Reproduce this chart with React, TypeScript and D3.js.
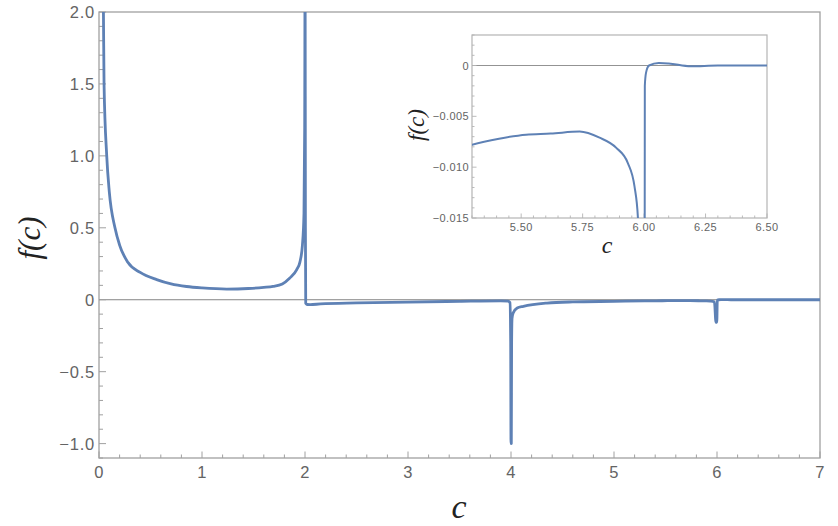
import React from 'react';
import * as d3 from 'd3';

// f(c), [c, f]
const mainCurve: [number, number][] = [
  [0.030, 2.4], [0.043, 2.0], [0.049, 1.5], [0.075, 1.0], [0.10, 0.75], [0.155, 0.5],
  [0.20, 0.38], [0.28, 0.26], [0.40, 0.19], [0.56, 0.14], [0.70, 0.11], [0.85, 0.092],
  [1.0, 0.082], [1.24, 0.074], [1.45, 0.078], [1.60, 0.086], [1.69, 0.093], [1.78, 0.11],
  [1.85, 0.15], [1.92, 0.21], [1.95, 0.26], [1.975, 0.38], [1.99, 0.6], [1.997, 1.2],
  [2.001, 2.4], [2.004, 0.5], [2.007, -0.025], [2.02, -0.033], [2.05, -0.034],
  [2.15, -0.029], [2.5, -0.022], [3.0, -0.016], [3.5, -0.011], [3.9, -0.008],
  [3.97, -0.009], [3.99, -0.02], [3.997, -0.3], [4.0, -1.0], [4.003, -1.0],
  [4.006, -0.3], [4.01, -0.13], [4.02, -0.093], [4.06, -0.058], [4.12, -0.046],
  [4.35, -0.023], [4.6, -0.015], [5.0, -0.011], [5.3, -0.0078], [5.41, -0.0072],
  [5.52, -0.0068], [5.62, -0.0067], [5.738, -0.0065], [5.819, -0.0071], [5.887, -0.0081],
  [5.934, -0.0096], [5.961, -0.0119], [5.975, -0.015], [5.99, -0.157], [5.998, -0.157],
  [6.003, -0.002], [6.008, -0.0007], [6.02, 0.0], [6.06, 0.00025], [6.1, 0.0002],
  [6.19, -0.00008], [6.3, 0.0], [6.5, 0.0], [7.0, 0.0],
];

const xTickLabels = ['0', '1', '2', '3', '4', '5', '6', '7'];
const yTickValues = [-1.0, -0.5, 0, 0.5, 1.0, 1.5, 2.0];
const yTickLabels = ['\u22121.0', '\u22120.5', '0', '0.5', '1.0', '1.5', '2.0'];

const insetXTicks = [5.5, 5.75, 6.0, 6.25, 6.5];
const insetXLabels = ['5.50', '5.75', '6.00', '6.25', '6.50'];
const insetYTicks = [0, -0.005, -0.01, -0.015];
const insetYLabels = ['0', '\u22120.005', '\u22120.010', '\u22120.015'];

const lineColor = '#5e81b5';
const frameColor = '#a0a0a0';
const labelColor = '#646464';

export default function App() {
  const W = 838, H = 526;
  const x = d3.scaleLinear().domain([0, 7]).range([99, 820]);
  const y = d3.scaleLinear().domain([-1.1, 2.0]).range([458, 12]);

  const ix = d3.scaleLinear().domain([5.3, 6.5]).range([472, 767]);
  const iy = d3.scaleLinear().domain([-0.015, 0.003]).range([218, 35]);

  const mainLine = d3.line<[number, number]>()
    .x(d => x(d[0])).y(d => y(d[1])).curve(d3.curveMonotoneX);
  const insetLine = d3.line<[number, number]>()
    .x(d => ix(d[0])).y(d => iy(d[1])).curve(d3.curveMonotoneX);

  const xMinor = x.ticks(35);
  const yMinor = y.ticks(31);
  const ixMinor = d3.range(0, 25).map(i => +(5.3 + i * 0.05).toFixed(2));
  const iyMinor = iy.ticks(18);

  const tickFont = '"Liberation Sans", Arial, sans-serif';
  const mathFont = '"Liberation Serif", "Times New Roman", serif';

  return (
    <svg width={W} height={H} style={{ position: 'absolute', left: 0, top: 0, background: '#fff' }}>
      <defs>
        <clipPath id="mainClip"><rect x={99} y={12} width={721} height={446} /></clipPath>
        <clipPath id="insetClip"><rect x={472} y={35} width={295} height={183} /></clipPath>
      </defs>

      {/* main frame */}
      <rect x={99} y={12} width={721} height={446} fill="none" stroke={frameColor} strokeWidth={1.3} />
      <line x1={99} x2={820} y1={y(0)} y2={y(0)} stroke="#777" strokeWidth={0.9} />

      {xMinor.map((t, i) => {
        const major = Math.abs(t - Math.round(t)) < 1e-6;
        return <line key={'xm' + i} x1={x(t)} x2={x(t)} y1={458} y2={458 - (major ? 6.5 : 3.5)} stroke={frameColor} strokeWidth={1} />;
      })}
      {yMinor.map((t, i) => {
        const major = Math.abs(t * 2 - Math.round(t * 2)) < 1e-6;
        return <line key={'ym' + i} x1={99} x2={99 + (major ? 7 : 4)} y1={y(t)} y2={y(t)} stroke={frameColor} strokeWidth={1} />;
      })}
      {xTickLabels.map((l, i) => (
        <text key={'xl' + i} x={x(i)} y={478} textAnchor="middle" fontFamily={tickFont} fontSize={16.5} fill={labelColor} letterSpacing={0.5}>{l}</text>
      ))}
      {yTickValues.map((v, i) => (
        <text key={'yl' + i} x={95} y={y(v) + 6} textAnchor="end" fontFamily={tickFont} fontSize={16.5} fill={labelColor} letterSpacing={0.8}>{yTickLabels[i]}</text>
      ))}

      <path d={mainLine(mainCurve) || ''} fill="none" stroke={lineColor} strokeWidth={2.8} strokeLinejoin="round" strokeLinecap="round" clipPath="url(#mainClip)" />

      <text x={40} y={238} transform="rotate(-90 40 238)" textAnchor="middle" fontFamily={mathFont} fontStyle="italic" fontSize={31} fill="#222">f(c)</text>
      <text x={459} y={518} textAnchor="middle" fontFamily={mathFont} fontStyle="italic" fontSize={34} fill="#222">c</text>

      {/* inset */}
      <rect x={472} y={35} width={295} height={183} fill="#fff" stroke="#b4b4b4" strokeWidth={1.2} />
      <line x1={472} x2={767} y1={iy(0)} y2={iy(0)} stroke="#777" strokeWidth={0.8} />
      {ixMinor.map((t, i) => {
        const major = Math.abs(t * 4 - Math.round(t * 4)) < 1e-6;
        return <line key={'ixm' + i} x1={ix(t)} x2={ix(t)} y1={218} y2={218 - (major ? 4.5 : 2.5)} stroke="#b4b4b4" strokeWidth={0.9} />;
      })}
      {iyMinor.map((t, i) => {
        const major = Math.abs(t * 200 - Math.round(t * 200)) < 1e-6;
        return <line key={'iym' + i} x1={472} x2={472 + (major ? 4.5 : 2.5)} y1={iy(t)} y2={iy(t)} stroke="#b4b4b4" strokeWidth={0.9} />;
      })}
      {insetXTicks.map((v, i) => (
        <text key={'ixl' + i} x={ix(v)} y={231} textAnchor="middle" fontFamily={tickFont} fontSize={11} fill={labelColor} letterSpacing={0.4}>{insetXLabels[i]}</text>
      ))}
      {insetYTicks.map((v, i) => (
        <text key={'iyl' + i} x={469} y={iy(v) + 4} textAnchor="end" fontFamily={tickFont} fontSize={11} fill={labelColor} letterSpacing={0.4}>{insetYLabels[i]}</text>
      ))}
      <path d={insetLine(mainCurve) || ''} fill="none" stroke={lineColor} strokeWidth={2} strokeLinejoin="round" clipPath="url(#insetClip)" />

      <text x={424} y={125} transform="rotate(-90 424 125)" textAnchor="middle" fontFamily={mathFont} fontStyle="italic" fontSize={23} fill="#222">f(c)</text>
      <text x={607} y={253} textAnchor="middle" fontFamily={mathFont} fontStyle="italic" fontSize={24} fill="#222">c</text>
    </svg>
  );
}
